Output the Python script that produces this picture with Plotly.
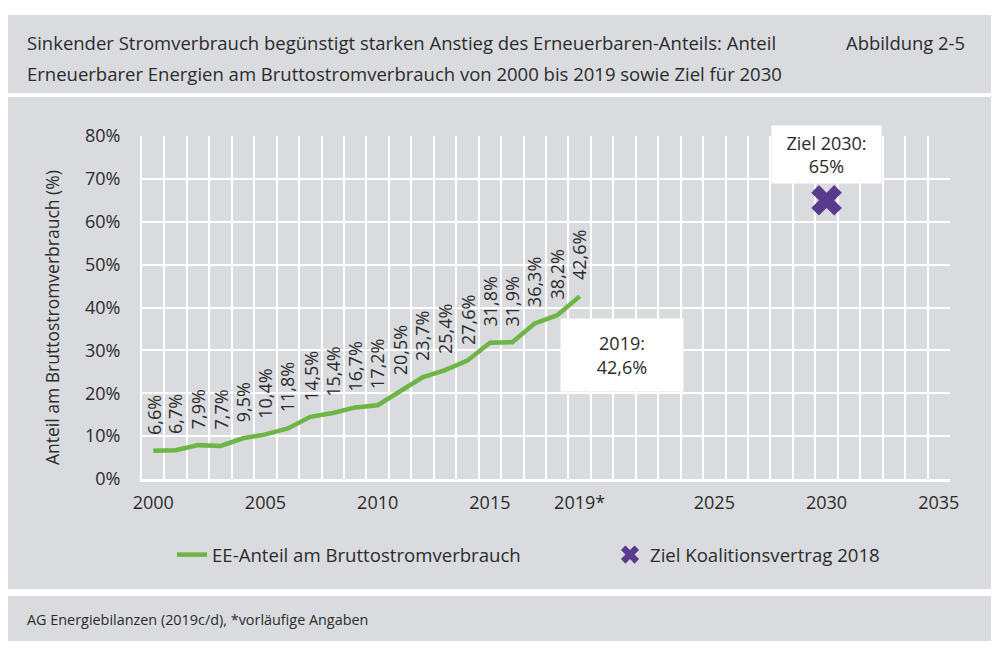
import plotly.graph_objects as go

# ---- data ----
years = list(range(2000, 2020))
ee_share = [6.6, 6.7, 7.9, 7.7, 9.5, 10.4, 11.8, 14.5, 15.4, 16.7,
            17.2, 20.5, 23.7, 25.4, 27.6, 31.8, 31.9, 36.3, 38.2, 42.6]
target_year = [2030]
target_share = [65]
x_tickvals = [2000, 2005, 2010, 2015, 2019, 2025, 2030, 2035]
x_ticktext = ["2000", "2005", "2010", "2015", "2019*", "2025", "2030", "2035"]
y_tickvals = [0, 10, 20, 30, 40, 50, 60, 70, 80]
y_ticktext = [f"{v}%" for v in y_tickvals]

title_1 = "Sinkender Stromverbrauch begünstigt starken Anstieg des Erneuerbaren-Anteils: Anteil"
title_2 = "Erneuerbarer Energien am Bruttostromverbrauch von 2000 bis 2019 sowie Ziel für 2030"
fig_no = "Abbildung 2-5"
source = "AG Energiebilanzen (2019c/d), *vorläufige Angaben"
y_title = "Anteil am Bruttostromverbrauch (%)"
name_ee = "EE-Anteil am Bruttostromverbrauch"
name_target = "Ziel Koalitionsvertrag 2018"

# ---- style ----
FONT = "Open Sans"
TXT = "#2b2b2b"
GRAY = "#d9dbde"
GREEN = "#6db544"
PURPLE = "#5a3a8c"

W, H = 1000, 666
L, R, T, B = 142, 50, 136, 187
PW, PH = W - L - R, H - T - B


def px(x):
    return (x - L) / PW


def py(y):
    return (H - B - y) / PH


def fmt(v):
    return f"{v:.1f}".replace(".", ",") + "%"


fig = go.Figure()
fig.add_trace(go.Scatter(
    x=years, y=ee_share, mode="lines", name=name_ee,
    line=dict(color=GREEN, width=4.5), xaxis="x", yaxis="y",
    legend="legend", hoverinfo="skip"))
fig.add_trace(go.Scatter(
    x=target_year, y=target_share, mode="markers", name=name_target,
    marker=dict(symbol="x", size=27, color=PURPLE, line=dict(width=0)),
    xaxis="x2", yaxis="y", legend="legend2", hoverinfo="skip"))

ann = []
for yr, v in zip(years, ee_share):
    ann.append(dict(x=yr, y=v, xref="x", yref="y", text=fmt(v), textangle=-90,
                    showarrow=False, xanchor="center", yanchor="bottom", yshift=14,
                    font=dict(size=18, color=TXT, family=FONT)))

# callout boxes
ann.append(dict(x=years[-1] + 1.9, y=28.9, xref="x", yref="y",
                text=f"{years[-1]}:<br>{fmt(ee_share[-1])}", showarrow=False,
                bgcolor="white", width=118, height=68, borderpad=2,
                font=dict(size=18, color=TXT, family=FONT)))
ann.append(dict(x=target_year[0], y=75.7, xref="x", yref="y",
                text=f"Ziel {target_year[0]}:<br>{target_share[0]}%", showarrow=False,
                bgcolor="white", width=105, height=53, borderpad=2,
                font=dict(size=18, color=TXT, family=FONT)))

# y axis title
ann.append(dict(x=px(52), y=py(318), xref="paper", yref="paper", text=y_title,
                textangle=-90, showarrow=False, xanchor="center", yanchor="middle",
                font=dict(size=17.5, color=TXT, family=FONT)))

# header and footer texts
ann.append(dict(x=px(25), y=py(43), xref="paper", yref="paper", text=title_1,
                showarrow=False, xanchor="left", yanchor="middle",
                font=dict(size=18.5, color=TXT, family=FONT)))
ann.append(dict(x=px(25), y=py(73), xref="paper", yref="paper", text=title_2,
                showarrow=False, xanchor="left", yanchor="middle",
                font=dict(size=18.5, color=TXT, family=FONT)))
ann.append(dict(x=px(967), y=py(42), xref="paper", yref="paper", text=fig_no,
                showarrow=False, xanchor="right", yanchor="middle",
                font=dict(size=18.4, color=TXT, family=FONT)))
ann.append(dict(x=px(25), y=py(619), xref="paper", yref="paper", text=source,
                showarrow=False, xanchor="left", yanchor="middle",
                font=dict(size=14.4, color=TXT, family=FONT)))

shapes = []
for (x0, y0, x1, y1) in [(8, 15, 991, 93), (8, 97, 991, 589), (8, 596, 991, 641)]:
    shapes.append(dict(type="rect", xref="paper", yref="paper", layer="below",
                       x0=px(x0), x1=px(x1), y0=py(y1), y1=py(y0),
                       fillcolor=GRAY, line=dict(width=0)))

legend_font = dict(size=18.6, color=TXT, family=FONT)
xr = [1999.5, 2035.5]
fig.update_layout(
    width=W, height=H,
    margin=dict(l=L, r=R, t=T, b=B, pad=0),
    paper_bgcolor="white", plot_bgcolor=GRAY,
    font=dict(family=FONT, size=18, color=TXT),
    showlegend=True,
    legend=dict(orientation="h", x=px(172), y=py(555), xanchor="left", yanchor="middle",
                bgcolor="rgba(0,0,0,0)", font=legend_font),
    legend2=dict(orientation="h", x=px(610), y=py(555), xanchor="left", yanchor="middle",
                 bgcolor="rgba(0,0,0,0)", font=legend_font),
    xaxis=dict(range=xr, tickmode="linear", tick0=1999.5, dtick=1,
               showticklabels=False, showgrid=True, gridcolor="white", gridwidth=2,
               zeroline=False, showline=True, linecolor="white", linewidth=3,
               ticks="", fixedrange=True),
    xaxis2=dict(range=xr, overlaying="x", anchor="y", side="bottom",
                tickmode="array", tickvals=x_tickvals, ticktext=x_ticktext,
                showgrid=False, zeroline=False, showline=False,
                ticks="outside", ticklen=7, tickcolor="rgba(0,0,0,0)",
                tickfont=dict(size=18, color=TXT, family=FONT), fixedrange=True),
    yaxis=dict(range=[0, 80], tickmode="array", tickvals=y_tickvals, ticktext=y_ticktext,
               showgrid=True, gridcolor="white", gridwidth=2, zeroline=False,
               showline=True, linecolor="white", linewidth=2,
               ticks="outside", ticklen=16, tickcolor="rgba(0,0,0,0)",
               tickfont=dict(size=18, color=TXT, family=FONT), fixedrange=True),
    annotations=ann,
    shapes=shapes,
)

fig.write_html("out.html")
